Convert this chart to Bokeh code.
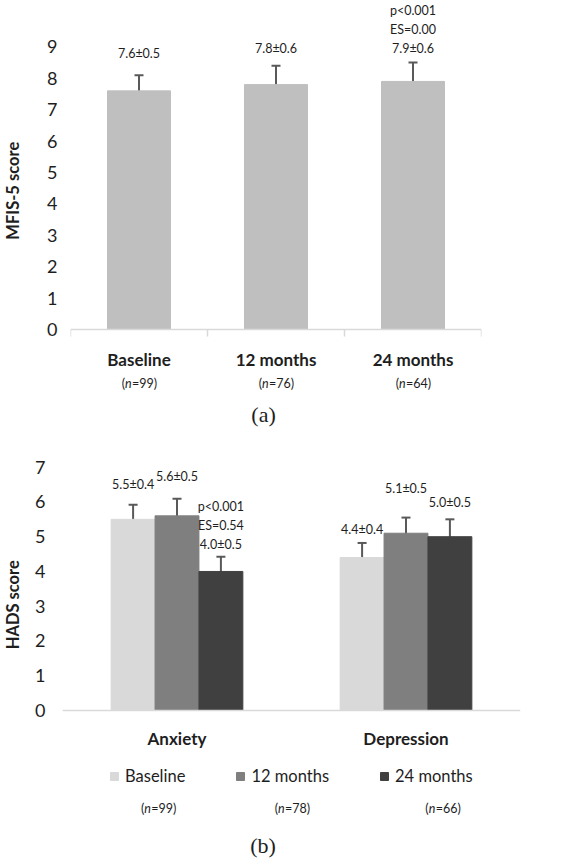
import numpy as np
from bokeh.plotting import figure
from bokeh.models import (Range1d, FixedTicker, Label, Whisker, ColumnDataSource,
                          TeeHead, Legend, LegendItem)
from bokeh.embed import file_html
from bokeh.resources import INLINE

# ---------------- data: panel (a) ----------------
a_categories = ["Baseline", "12 months", "24 months"]
a_n = [99, 76, 64]
a_mean = [7.6, 7.8, 7.9]
a_sd = [0.5, 0.6, 0.6]
a_stats = ["p<0.001", "ES=0.00"]          # printed over the 24-month bar
a_yticks = [0, 1, 2, 3, 4, 5, 6, 7, 8, 9]

# ---------------- data: panel (b) ----------------
b_categories = ["Anxiety", "Depression"]
b_series = ["Baseline", "12 months", "24 months"]
b_n = [99, 78, 66]
b_anxiety_mean = [5.5, 5.6, 4.0]
b_anxiety_sd = [0.4, 0.5, 0.5]
b_anxiety_err = [0.42, 0.49, 0.42]        # whisker half-length as drawn
b_depression_mean = [4.4, 5.1, 5.0]
b_depression_sd = [0.4, 0.5, 0.5]
b_depression_err = [0.42, 0.45, 0.50]
b_stats = ["p<0.001", "ES=0.54"]          # printed over anxiety 24-month bar
b_yticks = [0, 1, 2, 3, 4, 5, 6, 7]

# ---------------- layout / style ----------------
FONT = "Lato"
SERIF = "Liberation Serif"
TXT = "#1e1e1e"
AXIS_C = "#d9d9d9"
ERR_C = "#595959"
W = 570
EM = "\u2003"
EN = "\u2002"

# figure height, y0 position (px from fig top), px per unit, frame left/right borders
A_H, A_Y0, A_PX, A_LEFT, A_RIGHT = 430, 329, 31.4, 68, 89
B_H, B_Y0, B_PX, B_LEFT, B_RIGHT = 431, 280, 34.76, 61, 50
A_BAR_W = 0.46
B_BAR_W = 0.1917
B_COLORS = ["#d9d9d9", "#7f7f7f", "#404040"]
LINE_GAP = 19  # px between stacked annotation lines
LBL = "12.5px"


def base_fig(h, y0, px, left, right, xmax, yticks, ylabel, tick_standoff, label_standoff):
    p = figure(width=W, height=h, output_backend="svg", toolbar_location=None,
               x_range=Range1d(0, xmax), y_range=Range1d(-(h - y0) / px, y0 / px),
               min_border_left=left, min_border_right=right, min_border_top=0,
               min_border_bottom=0)
    p.outline_line_color = None
    p.grid.visible = False
    p.background_fill_color = "white"
    p.border_fill_color = "white"
    ya = p.yaxis[0]
    ya.ticker = FixedTicker(ticks=yticks)
    ya.axis_line_color = None
    ya.major_tick_line_color = None
    ya.minor_tick_line_color = None
    ya.major_tick_out = 0
    ya.major_tick_in = 0
    ya.major_label_standoff = tick_standoff
    ya.major_label_text_font = FONT
    ya.major_label_text_font_size = "18px"
    ya.major_label_text_color = TXT
    ya.axis_label = ylabel
    ya.axis_label_standoff = label_standoff
    ya.axis_label_text_font = FONT
    ya.axis_label_text_font_size = "16.5px"
    ya.axis_label_text_font_style = "bold"
    ya.axis_label_text_color = TXT
    xa = p.xaxis[0]
    xa.fixed_location = 0
    xa.axis_line_color = AXIS_C
    xa.axis_line_width = 1.5
    xa.major_tick_line_color = None
    xa.major_tick_out = 0
    xa.major_tick_in = 0
    xa.major_label_text_font = FONT
    xa.major_label_text_font_size = "17px"
    xa.major_label_text_font_style = "bold"
    xa.major_label_text_color = TXT
    return p


def lab(p, x, y, text, size=LBL, font=FONT, style="normal", align="center", xoff=0):
    p.add_layout(Label(x=x, y=y, text=text, text_align=align, text_baseline="middle",
                       text_font=font, text_font_size=size, text_font_style=style,
                       text_color=TXT, x_offset=xoff))


def n_label(p, x, y, n):
    lab(p, x, y, "(", align="right", xoff=-14)
    lab(p, x, y, "n", style="italic", align="left", xoff=-14)
    lab(p, x, y, f"={n})", align="left", xoff=-7)


def whisker(p, xs, up, lo):
    src = ColumnDataSource(dict(x=xs, up=up, lo=lo))
    p.add_layout(Whisker(source=src, base="x", upper="up", lower="lo",
                         line_color=ERR_C, line_width=2,
                         upper_head=TeeHead(size=9, line_color=ERR_C, line_width=2),
                         lower_head=TeeHead(size=9, line_color=ERR_C, line_width=2)))


# ================= panel (a) =================
# leading wide spaces lift the centred label to the middle of the 0-9 scale
pa = base_fig(A_H, A_Y0, A_PX, A_LEFT, A_RIGHT, len(a_categories), a_yticks,
              EM * 4 + "MFIS-5 score", 13, 21)
xa = np.arange(len(a_categories)) + 0.5
xax = pa.xaxis[0]
xax.ticker = FixedTicker(ticks=list(xa), minor_ticks=list(range(len(a_categories) + 1)))
xax.major_label_overrides = {float(x): c for x, c in zip(xa, a_categories)}
xax.minor_tick_line_color = AXIS_C
xax.minor_tick_line_width = 1.5
xax.minor_tick_out = 7
xax.minor_tick_in = 0
xax.major_label_standoff = 12

pa.vbar(x=xa, top=a_mean, width=A_BAR_W, color="#bfbfbf")
whisker(pa, xa, np.array(a_mean) + np.array(a_sd), np.array(a_mean) - np.array(a_sd))
a_off = [22, 17, 14]
for i, (m, s) in enumerate(zip(a_mean, a_sd)):
    ytop = m + s + a_off[i] / A_PX
    lab(pa, xa[i], ytop, f"{m:.1f}±{s:.1f}")
    if i == len(a_mean) - 1:
        for k, t in enumerate(reversed(a_stats)):
            lab(pa, xa[i], ytop + (k + 1) * LINE_GAP / A_PX, t)
for i, n in enumerate(a_n):
    n_label(pa, xa[i], -54 / A_PX, n)
a_unit = (W - A_LEFT - A_RIGHT) / len(a_categories)
lab(pa, (262 - A_LEFT) / a_unit, -84.5 / A_PX, "(a)", size="22px", font=SERIF)

# ================= panel (b) =================
pb = base_fig(B_H, B_Y0, B_PX, B_LEFT, B_RIGHT, len(b_categories), b_yticks,
              EM * 6 + EN + "HADS score", 17, 9)
xb = np.arange(len(b_categories)) + 0.5
xbx = pb.xaxis[0]
xbx.ticker = FixedTicker(ticks=list(xb), minor_ticks=[])
xbx.major_label_overrides = {float(x): c for x, c in zip(xb, b_categories)}
xbx.minor_tick_line_color = None
xbx.major_label_standoff = 17

means = [b_anxiety_mean, b_depression_mean]
sds = [b_anxiety_sd, b_depression_sd]
errs = [b_anxiety_err, b_depression_err]
b_off = [[20, 22, 12], [13, 29, 17]]
renderers = []
for j, sname in enumerate(b_series):
    xs = xb + (j - 1) * B_BAR_W
    tops = np.array([means[c][j] for c in range(len(b_categories))])
    ers = np.array([errs[c][j] for c in range(len(b_categories))])
    r = pb.vbar(x=xs, top=tops, width=B_BAR_W, color=B_COLORS[j])
    renderers.append(r)
    whisker(pb, xs, tops + ers, tops - ers)
    for c in range(len(b_categories)):
        ytop = tops[c] + ers[c] + b_off[c][j] / B_PX
        lab(pb, xs[c], ytop, f"{means[c][j]:.1f}±{sds[c][j]:.1f}")
        if c == 0 and j == len(b_series) - 1:
            for k, t in enumerate(reversed(b_stats)):
                lab(pb, xs[c], ytop + (k + 1) * LINE_GAP / B_PX, t)

legend = Legend(items=[LegendItem(label=s, renderers=[r]) for s, r in zip(b_series, renderers)],
                location=(47, 75), orientation="horizontal",
                glyph_width=10, glyph_height=10, label_height=10, label_standoff=6,
                spacing=50, padding=0, margin=0, border_line_color=None,
                background_fill_alpha=0, label_text_font=FONT,
                label_text_font_size="16.5px", label_text_color=TXT)
pb.add_layout(legend)

b_unit = (W - B_LEFT - B_RIGHT) / len(b_categories)
b_n_page_x = [157, 291, 442]
for n, px in zip(b_n, b_n_page_x):
    n_label(pb, (px - B_LEFT) / b_unit, -98 / B_PX, n)
lab(pb, (262 - B_LEFT) / b_unit, -135 / B_PX, "(b)", size="22px", font=SERIF)

open("out.html", "w").write(file_html([pa, pb], INLINE))
